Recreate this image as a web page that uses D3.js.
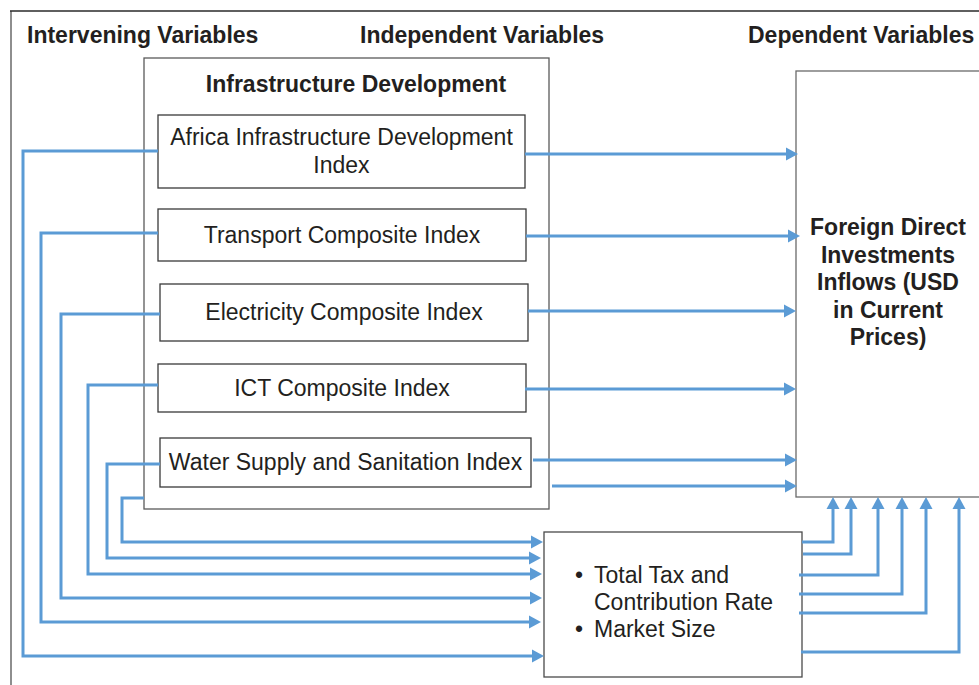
<!DOCTYPE html>
<html>
<head>
<meta charset="utf-8">
<script src="https://cdn.jsdelivr.net/npm/d3@7"></script>
<style>
  html, body { margin: 0; padding: 0; background: #fff; }
  svg { display: block; }
  text { font-family: "Liberation Sans", Arial, sans-serif; fill: #231f20; }
</style>
</head>
<body>
<div id="diagram"></div>
<script>
/*
    CONCEPTUAL FRAMEWORK
*/

// labels
const headers = ["Intervening Variables", "Independent Variables", "Dependent Variables"]
const groupTitle = "Infrastructure Development"
const indexLabels = [
    ["Africa Infrastructure Development", "Index"],
    ["Transport Composite Index"],
    ["Electricity Composite Index"],
    ["ICT Composite Index"],
    ["Water Supply and Sanitation Index"]
]
const dependentLines = ["Foreign Direct", "Investments", "Inflows (USD", "in Current", "Prices)"]
const interveningItems = [["Total Tax and", "Contribution Rate"], ["Market Size"]]

const width = 979,
    height = 685;
const blue = "#5b9bd5"
const fontSize = "23px"

const svg = d3.select("#diagram").append("svg")
    .attr("width", width)
    .attr("height", height)
    .attr("viewBox", `0 0 ${width} ${height}`)

// layout of the boxes (x0, x1, y0, y1)
const groupBox = { x0: 144, x1: 549, y0: 58, y1: 509 }
const indexBoxes = [
    { x0: 158, x1: 525, y0: 115, y1: 188 },
    { x0: 158, x1: 526, y0: 209, y1: 261 },
    { x0: 160, x1: 528, y0: 284, y1: 341 },
    { x0: 158, x1: 526, y0: 364, y1: 412 },
    { x0: 160, x1: 531, y0: 438, y1: 487 }
]
const fdiBox = { x0: 796, x1: 990, y0: 71, y1: 497 }
const taxBox = { x0: 544, x1: 802, y0: 532, y1: 677 }

// outer frame
svg.append("line")
    .attr("x1", 11).attr("x2", 11).attr("y1", 11).attr("y2", height)
    .attr("stroke", "#8e8e8e").attr("stroke-width", 2)
svg.append("line")
    .attr("x1", 10).attr("x2", width).attr("y1", 11).attr("y2", 11)
    .attr("stroke", "#2a2a2a").attr("stroke-width", 1.5)

// column headers
const headerX = [27, 360, 748]
svg.selectAll(".header")
    .data(headers)
    .enter()
    .append("text")
    .attr("class", "header")
    .attr("x", (d, i) => headerX[i])
    .attr("y", 43)
    .style("font-size", fontSize)
    .style("font-weight", "bold")
    .text(d => d)

const drawBox = (b, stroke, sw) => svg.append("rect")
    .attr("x", b.x0).attr("y", b.y0)
    .attr("width", b.x1 - b.x0).attr("height", b.y1 - b.y0)
    .attr("fill", "none")
    .attr("stroke", stroke)
    .attr("stroke-width", sw)

drawBox(groupBox, "#5a5a5a", 1.3)
drawBox(fdiBox, "#6a6a6a", 1.3)
drawBox(taxBox, "#4a4a4a", 1.3)

svg.append("text")
    .attr("x", 356)
    .attr("y", 92)
    .attr("text-anchor", "middle")
    .style("font-size", fontSize)
    .style("font-weight", "bold")
    .text(groupTitle)

// index boxes + labels
indexLabels.forEach((lines, i) => {
    const b = indexBoxes[i]
    drawBox(b, "#3a3a3a", 1.3)
    const cx = (b.x0 + b.x1) / 2
    const cy = (b.y0 + b.y1) / 2
    const lh = 28
    const first = cy + 7.5 - (lines.length - 1) * lh / 2
    svg.append("text")
        .attr("text-anchor", "middle")
        .style("font-size", fontSize)
        .selectAll("tspan")
        .data(lines)
        .enter()
        .append("tspan")
        .attr("x", cx)
        .attr("y", (d, j) => first + j * lh)
        .text(d => d)
})

// dependent variable label
svg.append("text")
    .attr("text-anchor", "middle")
    .style("font-size", fontSize)
    .style("font-weight", "bold")
    .selectAll("tspan")
    .data(dependentLines)
    .enter()
    .append("tspan")
    .attr("x", 888)
    .attr("y", (d, i) => 235 + i * 27.5)
    .text(d => d)

// intervening variable list
let row = 0
interveningItems.forEach((lines) => {
    lines.forEach((l, j) => {
        const y = 583 + row * 27
        if (j === 0) {
            svg.append("text")
                .attr("x", 579).attr("y", y)
                .attr("text-anchor", "middle")
                .style("font-size", fontSize)
                .text("\u2022")
        }
        svg.append("text")
            .attr("x", 594).attr("y", y)
            .style("font-size", fontSize)
            .text(l)
        row++
    })
})

// connectors
const headLen = 12,
    headHalf = 6.5;
const line = d3.line()

const arrow = (pts) => {
    const n = pts.length
    const tip = pts[n - 1], prev = pts[n - 2]
    const dx = tip[0] - prev[0], dy = tip[1] - prev[1]
    const len = Math.hypot(dx, dy)
    const ux = dx / len, uy = dy / len
    const base = [tip[0] - ux * headLen, tip[1] - uy * headLen]
    const shaft = pts.slice(0, n - 1).concat([[base[0] + ux, base[1] + uy]])
    svg.append("path")
        .attr("d", line(shaft))
        .attr("fill", "none")
        .attr("stroke", blue)
        .attr("stroke-width", 3)
        .attr("stroke-linejoin", "miter")
    svg.append("path")
        .attr("d", line([
            tip,
            [base[0] - uy * headHalf, base[1] + ux * headHalf],
            [base[0] + uy * headHalf, base[1] - ux * headHalf]
        ]) + "Z")
        .attr("fill", blue)
}

// independent -> dependent
const rightYs = [154, 236, 311, 389, 460, 486]
const rightStart = [525, 526, 528, 525, 533, 552]
const rightTip = [798, 800, 796, 796, 797, 797]
rightYs.forEach((y, i) => arrow([[rightStart[i], y], [rightTip[i], y]]))

// independent -> intervening (left feedback loops)
const loopStartX = [158, 158, 160, 158, 160, 144]
const loopStartY = [151, 233, 314, 385, 464, 498]
const loopX = [23, 41, 61, 88, 107, 122]
const loopEndY = [656, 622, 598, 574, 558, 542]
const loopTip = [544, 541, 542, 542, 541, 543]
loopX.forEach((x, i) => arrow([
    [loopStartX[i], loopStartY[i]],
    [x, loopStartY[i]],
    [x, loopEndY[i]],
    [loopTip[i], loopEndY[i]]
]))

// intervening -> dependent
const upStartX = [802, 803, 799, 799, 799, 801]
const upY = [542, 554, 575, 594, 613, 652]
const upX = [833, 851, 878, 902, 926, 959]
upX.forEach((x, i) => arrow([
    [upStartX[i], upY[i]],
    [x, upY[i]],
    [x, fdiBox.y1]
]))
</script>
</body>
</html>
